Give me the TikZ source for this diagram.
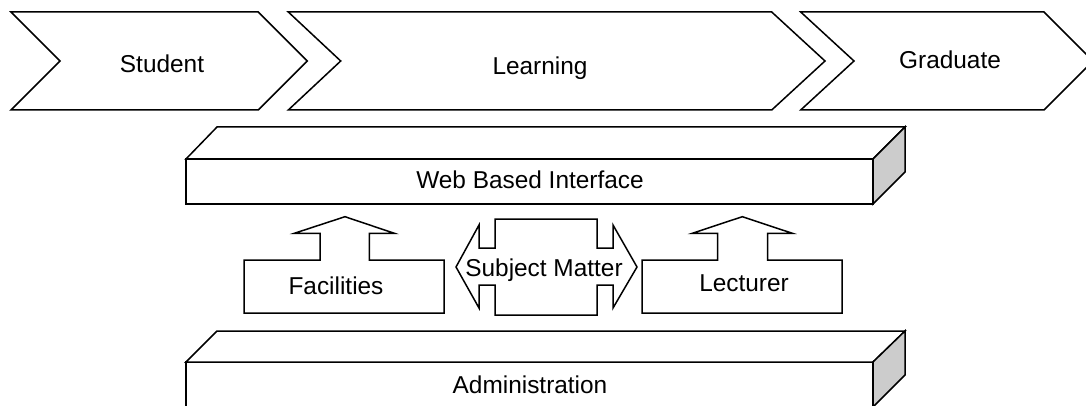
\documentclass[tikz,border=0pt]{standalone}
\usepackage{fontspec}
\setmainfont{Liberation Sans}
\begin{document}
\begin{tikzpicture}[x=1pt,y=-1pt,
  shp/.style={draw=black,line width=1.5pt,fill=white,line join=miter},
  sideface/.style={shp,fill=black!20},
  lbl/.style={font=\fontsize{24.4}{29}\selectfont,inner sep=0pt,anchor=base}]
\useasboundingbox (0,0) rectangle (1086,406);
% process chevrons
\draw[shp] (11,12) -- (258.3,12) -- (307.3,61) -- (258.3,110) -- (11,110) -- (60,61) -- cycle;
\draw[shp] (288.3,12) -- (771.7,12) -- (825,61) -- (771.7,110) -- (288.3,110) -- (340.7,61) -- cycle;
\draw[shp] (800.7,12) -- (1044,12) -- (1093,61) -- (1044,110) -- (800.7,110) -- (854,61) -- cycle;
\node[lbl] (student) at (162,72.7) {Student};
\node[lbl] (learning) at (540,75) {Learning};
\node[lbl] (graduate) at (950,69) {Graduate};
% web based interface slab
\draw[shp] (186,159) rectangle (873,204);
\draw[shp] (186,159) -- (217,127) -- (905,127) -- (873,159) -- cycle;
\draw[sideface] (873,159) -- (905,127) -- (905,172) -- (873,204) -- cycle;
\node[lbl] (web) at (530,189) {Web Based Interface};
% administration slab
\draw[shp] (186,362) rectangle (873,407);
\draw[shp] (186,362) -- (217,331) -- (905,331) -- (873,362) -- cycle;
\draw[sideface] (873,362) -- (905,331) -- (905,375) -- (873,407) -- cycle;
\node[lbl] (admin) at (530,393) {Administration};
% facilities up-arrow callout
\draw[shp] (244,260) -- (320,260) -- (320,233.3) -- (294.3,233.3) -- (345,216.7) -- (394.3,233.3)
  -- (369.3,233.3) -- (369.3,260) -- (444,260) -- (444,313) -- (244,313) -- cycle;
\node[lbl] (fac) at (336,294) {Facilities};
% lecturer up-arrow callout
\draw[shp] (642,260) -- (717.7,260) -- (717.7,233.3) -- (692.3,233.3) -- (742.3,216.7) -- (792.3,233.3)
  -- (767.7,233.3) -- (767.7,260) -- (842,260) -- (842,313) -- (642,313) -- cycle;
\node[lbl] (lect) at (744,291) {Lecturer};
% subject matter left-right arrow callout
\draw[shp] (495,219) -- (597,219) -- (597,248) -- (613,248) -- (613,225) -- (637,267) -- (613,308)
  -- (613,285) -- (597,285) -- (597,315) -- (495,315) -- (495,285) -- (479,285) -- (479,308)
  -- (456,267) -- (479,225) -- (479,248) -- (495,248) -- cycle;
\node[lbl] (subj) at (544,276) {Subject Matter};
\end{tikzpicture}
\end{document}
